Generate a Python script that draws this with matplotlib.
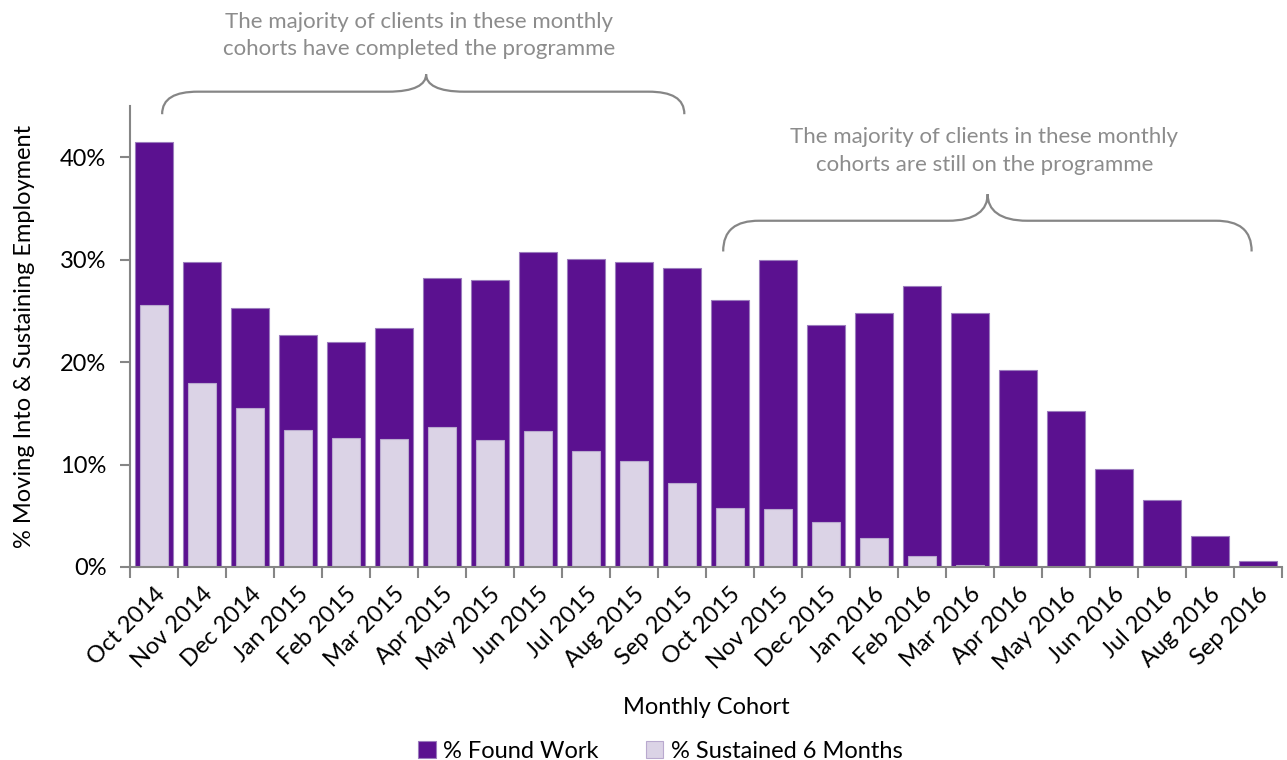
import matplotlib
matplotlib.use("Agg")
import matplotlib.pyplot as plt
from matplotlib.path import Path
from matplotlib.patches import PathPatch
from matplotlib.ticker import PercentFormatter

plt.rcParams['font.family'] = ['Lato', 'DejaVu Sans']

# data
cohorts = ["Oct 2014", "Nov 2014", "Dec 2014", "Jan 2015", "Feb 2015", "Mar 2015",
           "Apr 2015", "May 2015", "Jun 2015", "Jul 2015", "Aug 2015", "Sep 2015",
           "Oct 2015", "Nov 2015", "Dec 2015", "Jan 2016", "Feb 2016", "Mar 2016",
           "Apr 2016", "May 2016", "Jun 2016", "Jul 2016", "Aug 2016", "Sep 2016"]
found_work = [41.5, 29.8, 25.3, 22.6, 22.0, 23.3, 28.2, 28.0, 30.7, 30.1, 29.8, 29.2,
              26.1, 29.95, 23.6, 24.8, 27.4, 24.8, 19.2, 15.2, 9.55, 6.55, 3.07, 0.56]
sustained_6m = [25.6, 18.0, 15.5, 13.4, 12.6, 12.5, 13.7, 12.4, 13.3, 11.3, 10.3, 8.15,
                5.8, 5.7, 4.4, 2.8, 1.1, 0.15, 0, 0, 0, 0, 0, 0]

note_done = "The majority of clients in these monthly\ncohorts have completed the programme"
note_still = "The majority of clients in these monthly\ncohorts are still on the programme"

dark = "#5b1190"
light = "#dbd3e6"
grey = "#868686"
txt_grey = "#8c8c8c"


def brace(ax, x0, x1, xm, y_end, y_bar, y_tip, r_end, r_tip):
    # curly brace opening downwards, tip at xm
    verts = [(x0, y_end),
             (x0, y_end + (y_bar - y_end) * 0.7), (x0 + r_end * 0.35, y_bar), (x0 + r_end, y_bar),
             (xm - r_tip, y_bar),
             (xm - r_tip * 0.3, y_bar), (xm, y_bar + (y_tip - y_bar) * 0.4), (xm, y_tip),
             (xm, y_bar + (y_tip - y_bar) * 0.4), (xm + r_tip * 0.3, y_bar), (xm + r_tip, y_bar),
             (x1 - r_end, y_bar),
             (x1 - r_end * 0.35, y_bar), (x1, y_end + (y_bar - y_end) * 0.7), (x1, y_end)]
    codes = [Path.MOVETO,
             Path.CURVE4, Path.CURVE4, Path.CURVE4,
             Path.LINETO,
             Path.CURVE4, Path.CURVE4, Path.CURVE4,
             Path.CURVE4, Path.CURVE4, Path.CURVE4,
             Path.LINETO,
             Path.CURVE4, Path.CURVE4, Path.CURVE4]
    ax.add_patch(PathPatch(Path(verts, codes), fill=False, edgecolor=grey,
                           linewidth=1.6, clip_on=False))


fig = plt.figure(figsize=(12.87, 7.6), dpi=100)
ax = fig.add_axes([0.101, 0.254, 0.895, 0.6065])

x = range(len(cohorts))
ax.bar(x, found_work, width=0.78, color=dark, edgecolor="#9b7cbd", linewidth=0.8,
       label="% Found Work")
ax.bar(x, sustained_6m, width=0.575, color=light, edgecolor="#b9a9cf", linewidth=0.8,
       label="% Sustained 6 Months")

ax.set_xlim(-0.5, len(cohorts) - 0.5)
ax.set_ylim(0, 45)
ax.set_yticks([0, 10, 20, 30, 40])
ax.yaxis.set_major_formatter(PercentFormatter(decimals=0))

ax.set_xticks(list(x))
ax.set_xticklabels(cohorts, rotation=45, ha="right", rotation_mode="anchor")
ax.set_xticks([i - 0.5 for i in range(len(cohorts) + 1)], minor=True)
ax.tick_params(axis="x", which="major", length=0, labelsize=17, pad=12)
ax.tick_params(axis="x", which="minor", length=8, width=1.5, color=grey)
ax.tick_params(axis="y", length=7, width=1.5, color=grey, labelsize=17, pad=10)

for side in ["top", "right"]:
    ax.spines[side].set_visible(False)
for side in ["left", "bottom"]:
    ax.spines[side].set_color(grey)
    ax.spines[side].set_linewidth(1.5)

ax.set_xlabel("Monthly Cohort", fontsize=17, labelpad=17)
ax.set_ylabel("% Moving Into & Sustaining Employment", fontsize=17, labelpad=18)

brace(ax, 0.17, 11.05, 5.67, 44.2, 46.4, 48.1, 0.75, 0.8)
brace(ax, 11.86, 22.87, 17.37, 30.8, 33.8, 36.4, 0.75, 0.83)

ax.text(5.53, 51.9, note_done, ha="center", va="center", fontsize=16,
        color=txt_grey, linespacing=1.45, clip_on=False)
ax.text(17.3, 40.6, note_still, ha="center", va="center", fontsize=16,
        color=txt_grey, linespacing=1.45, clip_on=False)

fig.legend(loc="lower center", bbox_to_anchor=(0.513, -0.03), ncol=2, frameon=False,
           fontsize=17, handlelength=0.75, handleheight=0.75, handletextpad=0.3,
           columnspacing=2.0)

fig.savefig("out.png", dpi=100)
